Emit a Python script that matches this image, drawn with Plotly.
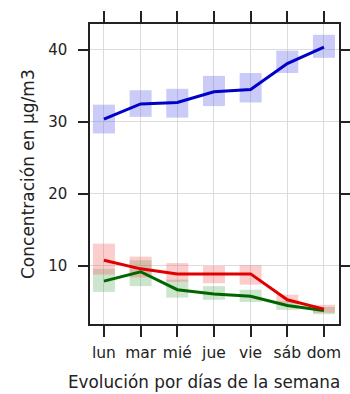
import plotly.graph_objects as go

days = ["lun", "mar", "mié", "jue", "vie", "sáb", "dom"]

blue_mean = [30.4, 32.5, 32.7, 34.2, 34.5, 38.1, 40.4]
blue_lo = [28.4, 30.7, 30.6, 32.2, 32.7, 36.8, 38.9]
blue_hi = [32.4, 34.4, 34.6, 36.4, 36.8, 39.9, 42.1]

red_mean = [10.8, 9.6, 8.9, 8.9, 8.9, 5.3, 4.0]
red_lo = [8.8, 8.4, 7.8, 7.6, 7.4, 4.8, 3.5]
red_hi = [13.1, 11.3, 10.4, 10.0, 10.1, 6.0, 4.6]

green_mean = [7.9, 9.2, 6.7, 6.1, 5.8, 4.5, 3.8]
green_lo = [6.4, 7.2, 5.6, 5.3, 5.0, 3.9, 3.3]
green_hi = [9.6, 10.8, 8.1, 7.2, 6.7, 5.1, 4.3]

y_ticks = [10, 20, 30, 40]

x_title = "Evolución por días de la semana"
y_title = "Concentración en µg/m3"

FONT = "DejaVu Sans"
INK = "#222222"

fig = go.Figure()

def ci(lo, hi, color):
    fig.add_trace(go.Bar(
        x=days, y=[h - l for l, h in zip(lo, hi)], base=lo,
        width=0.6, marker=dict(color=color, line=dict(width=0)),
        showlegend=False, hoverinfo="skip"))

ci(blue_lo, blue_hi, "rgba(110,110,235,0.36)")
ci(green_lo, green_hi, "rgba(70,160,70,0.27)")
ci(red_lo, red_hi, "rgba(245,90,90,0.30)")

fig.add_trace(go.Scatter(x=days, y=green_mean, mode="lines",
                         line=dict(color="#006600", width=3), showlegend=False))
fig.add_trace(go.Scatter(x=days, y=red_mean, mode="lines",
                         line=dict(color="#e00000", width=3), showlegend=False))
fig.add_trace(go.Scatter(x=days, y=blue_mean, mode="lines",
                         line=dict(color="#0000c8", width=3), showlegend=False))

fig.update_layout(
    width=350, height=394,
    margin=dict(l=90, r=11, t=24, b=70),
    paper_bgcolor="white", plot_bgcolor="white",
    barmode="overlay",
    font=dict(family=FONT, color=INK, size=13),
    xaxis=dict(
        type="category", range=[-0.38, 6.41], automargin=False,
        showline=True, linecolor=INK, linewidth=1.5, mirror="allticks",
        ticks="outside", ticklen=11, tickwidth=1.5, tickcolor=INK,
        showgrid=True, gridcolor="#dcdcdc", gridwidth=1,
        tickfont=dict(family=FONT, size=15.5, color=INK),
        ticklabelstandoff=3,
        zeroline=False, fixedrange=True,
    ),
    yaxis=dict(
        range=[1.94, 43.6], tickvals=y_ticks, automargin=False,
        showline=True, linecolor=INK, linewidth=1.5, mirror="allticks",
        ticks="outside", ticklen=10, tickwidth=1.5, tickcolor=INK,
        showgrid=True, gridcolor="#dcdcdc", gridwidth=1,
        tickfont=dict(family=FONT, size=15, color=INK),
        ticklabelstandoff=8,
        zeroline=False, fixedrange=True,
    ),
    annotations=[
        dict(text=x_title, xref="paper", yref="paper", x=-0.096, y=-0.193,
             xanchor="left", yanchor="middle", showarrow=False,
             font=dict(family=FONT, size=16.8, color=INK)),
        dict(text=y_title, xref="paper", yref="paper", x=-0.249, y=0.5,
             xanchor="center", yanchor="middle", showarrow=False, textangle=-90,
             font=dict(family=FONT, size=17, color=INK)),
    ],
)

fig.write_html("out.html")
